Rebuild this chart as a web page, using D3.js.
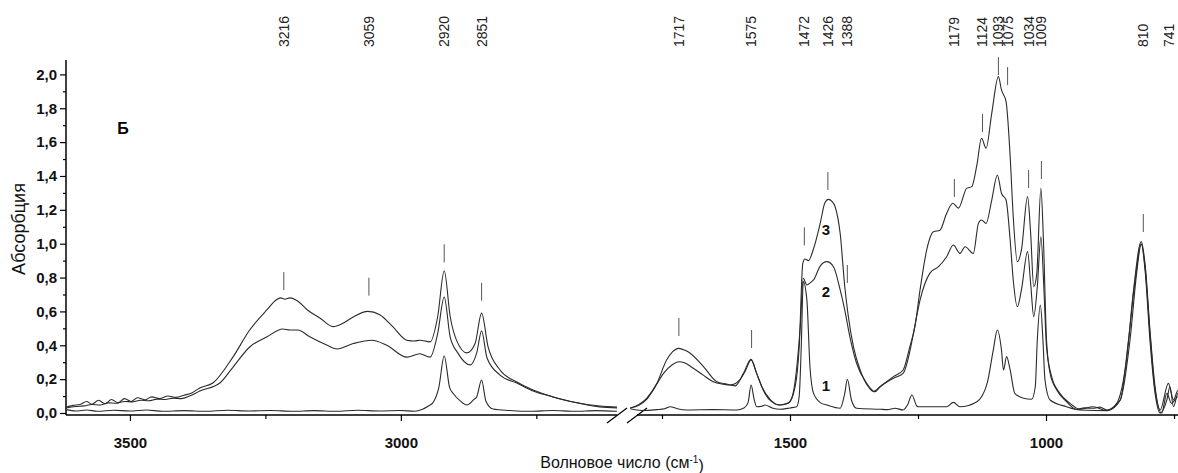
<!DOCTYPE html>
<html>
<head>
<meta charset="utf-8">
<script src="https://d3js.org/d3.v7.min.js"></script>
<style>
  body { margin: 0; background: #fff; }
  svg { display: block; font-family: Arial, "Liberation Sans", sans-serif; }
</style>
</head>
<body>
<div id="chart"></div>
<script>
var width = 1178;
var height = 473;

// spectra: [wavenumber, absorbance]
var curve3Left = [[3618,0.035],[3605,0.045],[3592,0.05],[3580,0.068],[3570,0.052],[3558,0.075],[3546,0.055],[3534,0.08],[3522,0.06],[3510,0.085],[3498,0.068],[3486,0.09],[3472,0.078],[3460,0.095],[3445,0.085],[3430,0.1],[3415,0.092],[3400,0.105],[3385,0.12],[3371,0.148],[3347,0.177],[3310,0.33],[3279,0.49],[3247,0.61],[3229,0.67],[3222,0.68],[3214,0.672],[3205,0.68],[3190,0.66],[3173,0.61],[3149,0.56],[3125,0.51],[3107,0.53],[3088,0.567],[3061,0.6],[3039,0.58],[3015,0.51],[2989,0.43],[2975,0.425],[2965,0.43],[2946,0.42],[2932,0.57],[2920,0.84],[2909,0.57],[2896,0.42],[2878,0.355],[2863,0.41],[2851,0.59],[2839,0.39],[2817,0.254],[2786,0.183],[2756,0.136],[2719,0.095],[2682,0.065],[2633,0.036],[2601,0.03]];
var curve2Left = [[3618,0.03],[3600,0.038],[3585,0.042],[3570,0.05],[3555,0.047],[3540,0.06],[3525,0.058],[3510,0.068],[3495,0.066],[3480,0.075],[3465,0.072],[3450,0.082],[3435,0.08],[3420,0.088],[3405,0.085],[3390,0.1],[3371,0.13],[3334,0.177],[3310,0.27],[3279,0.39],[3247,0.45],[3218,0.496],[3205,0.49],[3190,0.49],[3168,0.45],[3136,0.40],[3118,0.378],[3088,0.41],[3053,0.43],[3026,0.40],[2989,0.33],[2965,0.35],[2946,0.33],[2932,0.47],[2920,0.685],[2909,0.45],[2895,0.355],[2872,0.284],[2860,0.355],[2851,0.485],[2841,0.325],[2817,0.224],[2786,0.177],[2756,0.13],[2719,0.095],[2682,0.065],[2633,0.041],[2601,0.035]];
var curve1Left = [[3618,0.02],[3600,0.012],[3580,0.018],[3560,0.01],[3530,0.016],[3500,0.012],[3470,0.018],[3440,0.01],[3400,0.014],[3360,0.01],[3320,0.016],[3280,0.012],[3240,0.015],[3200,0.01],[3160,0.014],[3120,0.01],[3080,0.016],[3040,0.012],[3000,0.015],[2975,0.01],[2960,0.022],[2950,0.04],[2941,0.06],[2930,0.15],[2920,0.337],[2910,0.15],[2904,0.118],[2890,0.07],[2878,0.047],[2865,0.08],[2860,0.095],[2851,0.195],[2843,0.07],[2830,0.024],[2800,0.015],[2760,0.01],[2720,0.015],[2680,0.01],[2640,0.014],[2601,0.01]];

var curve3Right = [[1812,0.03],[1795,0.05],[1780,0.087],[1760,0.175],[1741,0.313],[1730,0.36],[1717,0.382],[1705,0.37],[1695,0.353],[1669,0.274],[1643,0.185],[1624,0.171],[1607,0.16],[1591,0.234],[1576,0.317],[1565,0.234],[1549,0.116],[1536,0.067],[1520,0.047],[1503,0.057],[1490,0.155],[1482,0.39],[1475,0.884],[1471,0.91],[1464,0.90],[1454,0.97],[1441,1.12],[1432,1.24],[1425,1.262],[1418,1.25],[1412,1.22],[1402,1.06],[1393,0.746],[1386,0.569],[1376,0.39],[1363,0.254],[1347,0.155],[1337,0.126],[1324,0.155],[1298,0.215],[1279,0.254],[1266,0.39],[1256,0.51],[1246,0.727],[1233,0.963],[1220,1.07],[1207,1.08],[1194,1.18],[1182,1.239],[1171,1.21],[1155,1.327],[1145,1.337],[1135,1.465],[1126,1.623],[1117,1.564],[1106,1.77],[1093,1.987],[1087,1.908],[1078,1.839],[1070,1.514],[1064,1.16],[1056,0.894],[1048,0.963],[1036,1.278],[1030,1.061],[1024,0.746],[1018,0.825],[1010,1.327],[1005,1.02],[999,0.431],[992,0.234],[979,0.136],[960,0.067],[940,0.022],[925,0.03],[908,0.028],[895,0.035],[881,0.018],[862,0.057],[842,0.333],[829,0.727],[814,1.012],[806,0.864],[797,0.49],[787,0.155],[777,0.018],[761,0.175],[751,0.077],[742,0.136],[735,0.12]];
var curve2Right = [[1812,0.03],[1795,0.045],[1780,0.08],[1767,0.136],[1747,0.234],[1730,0.285],[1717,0.303],[1705,0.295],[1689,0.264],[1670,0.225],[1650,0.185],[1630,0.17],[1617,0.165],[1598,0.195],[1587,0.25],[1576,0.313],[1566,0.24],[1555,0.155],[1539,0.081],[1520,0.047],[1503,0.06],[1494,0.116],[1480,0.51],[1474,0.796],[1467,0.756],[1460,0.77],[1454,0.786],[1441,0.868],[1428,0.894],[1415,0.864],[1402,0.727],[1393,0.608],[1383,0.45],[1370,0.294],[1350,0.175],[1334,0.126],[1324,0.155],[1298,0.205],[1279,0.234],[1266,0.362],[1259,0.47],[1246,0.667],[1227,0.825],[1210,0.864],[1194,0.923],[1181,0.992],[1168,0.943],[1158,0.982],[1142,0.943],[1132,1.12],[1126,1.14],[1117,1.12],[1106,1.258],[1095,1.406],[1087,1.298],[1078,1.258],[1070,1.02],[1064,0.786],[1056,0.628],[1048,0.727],[1036,0.953],[1030,0.766],[1024,0.569],[1017,0.746],[1010,1.041],[1004,0.727],[999,0.39],[989,0.215],[973,0.116],[953,0.057],[934,0.022],[908,0.037],[881,0.014],[855,0.077],[839,0.43],[826,0.786],[814,0.998],[806,0.845],[797,0.47],[787,0.136],[774,0.0],[764,0.116],[755,0.057],[742,0.096],[735,0.08]];
var curve1Right = [[1812,0.025],[1790,0.015],[1760,0.02],[1745,0.025],[1734,0.037],[1720,0.025],[1702,0.018],[1650,0.02],[1604,0.018],[1590,0.03],[1582,0.06],[1576,0.165],[1570,0.08],[1565,0.037],[1555,0.04],[1549,0.047],[1535,0.03],[1520,0.022],[1500,0.03],[1487,0.037],[1482,0.1],[1478,0.39],[1474,0.776],[1467,0.667],[1461,0.273],[1454,0.116],[1440,0.06],[1428,0.047],[1402,0.028],[1393,0.116],[1388,0.199],[1380,0.077],[1370,0.028],[1324,0.022],[1310,0.02],[1295,0.028],[1279,0.018],[1270,0.05],[1262,0.106],[1252,0.04],[1249,0.037],[1194,0.037],[1181,0.063],[1168,0.037],[1135,0.067],[1115,0.175],[1103,0.372],[1095,0.49],[1087,0.372],[1083,0.254],[1077,0.333],[1070,0.254],[1061,0.116],[1044,0.087],[1028,0.081],[1021,0.155],[1017,0.431],[1011,0.638],[1006,0.431],[1002,0.195],[992,0.077],[960,0.037],[934,0.018],[881,0.014],[855,0.077],[836,0.43],[823,0.825],[814,1.0],[806,0.825],[797,0.43],[787,0.116],[777,0.0],[764,0.077],[758,0.155],[751,0.037],[742,0.118],[735,0.1]];

// peak labels on top and the absorbance where each marker stroke starts
var peakWn = [3216, 3059, 2920, 2851, 1717, 1575, 1472, 1426, 1388, 1179, 1124, 1093, 1075, 1034, 1009, 810, 741];
var peakMarkerAbs = [0.726, 0.693, 0.89, 0.663, 0.455, 0.384, 0.99, 1.317, 0.768, 1.276, 1.66, 1.996, 1.937, 1.329, 1.382, 1.069, 0.177];

// curve numbers: [label, wavenumber, absorbance]
var curveNames = [["3", 1430, 1.08], ["2", 1430, 0.715], ["1", 1430, 0.16]];

// axis ticks
var yMajor = [0, 0.2, 0.4, 0.6, 0.8, 1.0, 1.2, 1.4, 1.6, 1.8, 2.0];
var yMinor = [0.1, 0.3, 0.5, 0.7, 0.9, 1.1, 1.3, 1.5, 1.7, 1.9];
var xLeftMajor = [3500, 3000];
var xLeftMinor = [3250, 2750];
var xRightMajor = [1500, 1000];
var xRightMinor = [1750, 1250, 750];

var xLeft = d3.scaleLinear().domain([3618, 2600]).range([66, 617.6]);
var xRight = d3.scaleLinear().domain([1815, 735]).range([628.7, 1181.7]);
var yScale = d3.scaleLinear().domain([0, 2]).range([413, 74.4]);

function xOf(wn) { return wn > 2000 ? xLeft(wn) : xRight(wn); }

var svg = d3.select("#chart")
    .append("svg")
    .attr("width", width)
    .attr("height", height);

svg.append("rect").attr("width", width).attr("height", height).attr("fill", "#fff");

var axisY = 415;
var comma = function(d) { return d3.format(".1f")(d).replace(".", ","); };

// y axis
var yAxisG = svg.append("g").attr("transform", "translate(66,0)");
yAxisG.call(d3.axisLeft(yScale).tickValues(yMajor).tickSize(6).tickPadding(3).tickFormat(comma));
yAxisG.append("g").call(d3.axisLeft(yScale).tickValues(yMinor).tickSize(3).tickFormat(""));
yAxisG.selectAll(".domain").remove();
yAxisG.append("line").attr("x1", 0).attr("x2", 0)
    .attr("y1", 60).attr("y2", axisY).attr("stroke", "#000").attr("stroke-width", 1.5);

// bottom axes, one per segment
function bottomAxis(scale, major, minor, x0, x1) {
    var g = svg.append("g").attr("transform", "translate(0," + axisY + ")");
    g.call(d3.axisBottom(scale).tickValues(major).tickSize(6).tickPadding(16).tickFormat(d3.format("d")));
    g.append("g").call(d3.axisBottom(scale).tickValues(minor).tickSize(4).tickFormat(""));
    g.selectAll(".domain").remove();
    g.append("line").attr("x1", x0).attr("x2", x1).attr("y1", 0).attr("y2", 0)
        .attr("stroke", "#000").attr("stroke-width", 1.5);
    return g;
}
bottomAxis(xLeft, xLeftMajor, xLeftMinor, 66, 617);
bottomAxis(xRight, xRightMajor, xRightMinor, 637, width);

svg.selectAll(".tick text")
    .attr("font-size", 15)
    .attr("font-weight", "bold")
    .attr("fill", "#111");
svg.selectAll(".tick line").attr("stroke", "#000").attr("stroke-width", 1.2);

// axis break
[[607, 627], [627, 647]].forEach(function(p) {
    svg.append("line")
        .attr("x1", p[0]).attr("y1", 423).attr("x2", p[1]).attr("y2", 408)
        .attr("stroke", "#000").attr("stroke-width", 1.2);
});

// spectra
var lineLeft = d3.line()
    .x(function(d) { return xLeft(d[0]); })
    .y(function(d) { return yScale(d[1]); })
    .curve(d3.curveMonotoneX);
var lineRight = d3.line()
    .x(function(d) { return xRight(d[0]); })
    .y(function(d) { return yScale(d[1]); })
    .curve(d3.curveMonotoneX);

var spectraG = svg.append("g").attr("fill", "none").attr("stroke", "#2b2b2b").attr("stroke-width", 1.1);
[curve1Left, curve2Left, curve3Left].forEach(function(c) {
    spectraG.append("path").attr("d", lineLeft(c));
});
[curve1Right, curve2Right, curve3Right].forEach(function(c) {
    spectraG.append("path").attr("d", lineRight(c));
});

// peak markers and labels
var peaks = peakWn.map(function(w, i) { return { wn: w, abs: peakMarkerAbs[i] }; });

svg.selectAll(".peak-mark")
    .data(peaks)
    .enter()
    .append("line")
    .attr("class", "peak-mark")
    .attr("x1", function(d) { return xOf(d.wn); })
    .attr("x2", function(d) { return xOf(d.wn); })
    .attr("y1", function(d) { return yScale(d.abs); })
    .attr("y2", function(d) { return yScale(d.abs) - 18; })
    .attr("stroke", "#555")
    .attr("stroke-width", 1);

svg.selectAll(".peak-label")
    .data(peaks)
    .enter()
    .append("text")
    .attr("class", "peak-label")
    .attr("transform", function(d) {
        return "translate(" + Math.min(xOf(d.wn), 1169) + ",47) rotate(-90)";
    })
    .attr("dy", "0.35em")
    .attr("font-size", 14)
    .attr("fill", "#222")
    .text(function(d) { return d.wn; });

// curve numbers
svg.selectAll(".curve-name")
    .data(curveNames)
    .enter()
    .append("text")
    .attr("class", "curve-name")
    .attr("x", function(d) { return xRight(d[1]); })
    .attr("y", function(d) { return yScale(d[2]); })
    .attr("dy", "0.35em")
    .attr("text-anchor", "middle")
    .attr("font-size", 15)
    .attr("font-weight", "bold")
    .attr("fill", "#111")
    .text(function(d) { return d[0]; });

// panel letter
svg.append("text")
    .attr("x", 123).attr("y", 128)
    .attr("dy", "0.35em")
    .attr("text-anchor", "middle")
    .attr("font-size", 16)
    .attr("font-weight", "bold")
    .text("Б");

// axis titles
svg.append("text")
    .attr("transform", "translate(19,229) rotate(-90)")
    .attr("dy", "0.35em")
    .attr("text-anchor", "middle")
    .attr("font-size", 18)
    .attr("fill", "#111")
    .text("Абсорбция");

var xTitle = svg.append("text")
    .attr("x", 622).attr("y", 462)
    .attr("dy", "0.35em")
    .attr("text-anchor", "middle")
    .attr("font-size", 16)
    .attr("fill", "#111");
xTitle.append("tspan").text("Волновое число (см");
xTitle.append("tspan").attr("dy", "-0.5em").attr("font-size", 10).text("-1");
xTitle.append("tspan").attr("dy", "0.5em").text(")");
</script>
</body>
</html>
